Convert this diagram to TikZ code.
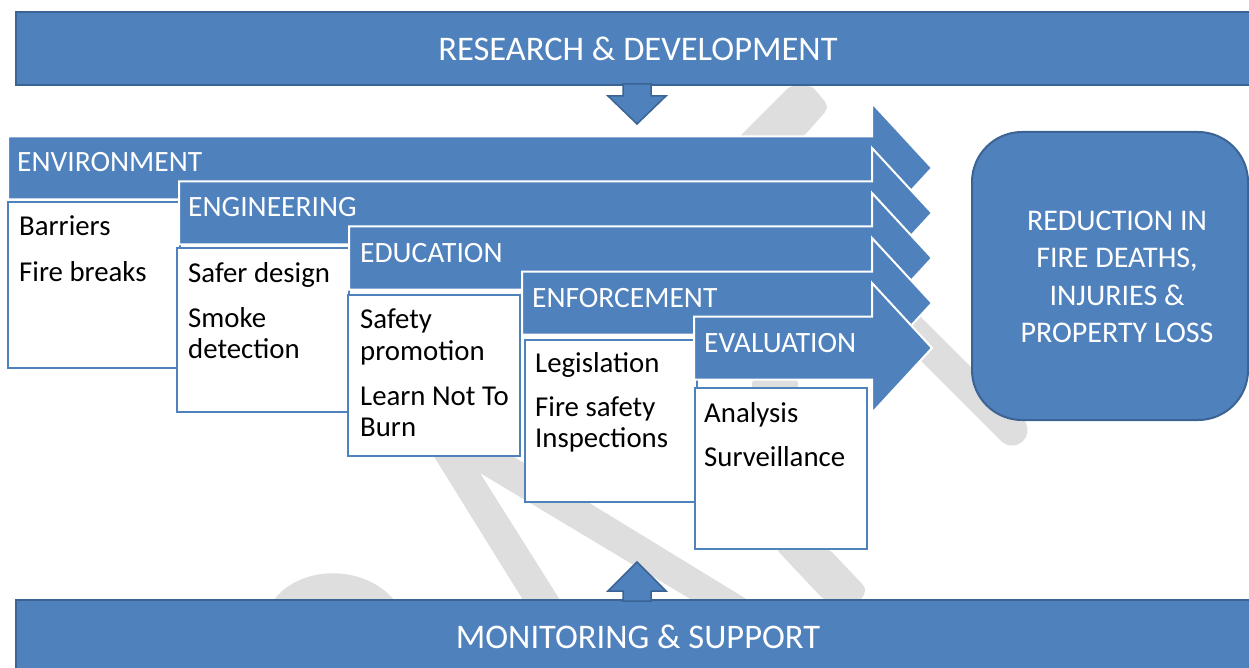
\documentclass[tikz,border=0pt]{standalone}
\usepackage{fontspec}
\setmainfont{Carlito}
\definecolor{blueF}{HTML}{4F81BD}
\definecolor{blueD}{HTML}{3B6494}
\definecolor{wm}{HTML}{DEDEDE}
\begin{document}
\begin{tikzpicture}[x=1pt,y=-1pt,
  banner/.style={fill=blueF, draw=blueD, line width=2},
  blockarrow/.style={fill=blueF, draw=blueD, line width=1.5, line join=miter},
  chevron/.style={fill=blueF, draw=white, line width=2},
  itembox/.style={fill=white, draw=blueF, line width=2.5},
  hdr/.style={anchor=base west, inner sep=0, text=white, font=\fontsize{29.5}{32}\selectfont},
  itm/.style={anchor=base west, inner sep=0, text=black, font=\fontsize{28.8}{32}\selectfont},
  bantext/.style={anchor=base, inner sep=0, text=white, font=\fontsize{34.5}{40}\selectfont},
]
\useasboundingbox (0,0) rectangle (1249,668);
% ---- watermark (background) ----
\fill[wm, rounded corners=4] (739,137) -- (790,86) -- (812,86) -- (827,104) -- (827,110) -- (803,137) -- cycle;
\draw[wm, line width=31, line cap=round] (860,278) -- (1012,430);
\fill[wm, rounded corners=6] (752,396) rectangle (798,378);
\fill[wm] (273,601) .. controls (300,564) and (365,564) .. (395,601) -- cycle;
\fill[wm] (433,455) -- (511,455) -- (748,600) -- (692,600) -- (480,473) -- (560,600) -- (523,600) -- cycle;
\fill[wm, rounded corners=4] (776,549) -- (829,549) -- (866,588) -- (862,600) -- (824,600) -- cycle;
% ---- banners ----
\draw[banner] (16,12) rectangle (1262,85);
\node[bantext] (rdtext) at (638,61) {RESEARCH \& DEVELOPMENT};
\draw[banner] (16,600) rectangle (1262,690);
\node[bantext] (mstext) at (638,648) {MONITORING \& SUPPORT};
% block arrows from the banners
\coordinate (downtip) at (637,124);
\coordinate (uptip) at (637,562);
\draw[blockarrow] (623,84) -- (651,84) -- (651,96) -- (666,96) -- (downtip) -- (608,96) -- (623,96) -- cycle;
\draw[blockarrow] (623,601) -- (651,601) -- (651,591) -- (666,591) -- (uptip) -- (608,591) -- (623,591) -- cycle;
% ---- chevrons and boxes ----
\foreach \x/\c/\bt/\bb/\bl in {8/168/202/368/8, 179/213/248/412/177, 349/258/295/456/348, 522/303/340/502/525, 694/348/388/549/695}{
  \draw[chevron] (\x,\c-31.5) -- (872,\c-31.5) -- (872,\c-65) -- (932,\c) -- (872,\c+65) -- (872,\c+31.5) -- (\x,\c+31.5) -- cycle;
  \draw[itembox] (\bl,\bt) rectangle (\bl+172,\bb);
}
% ---- header texts ----
\node[hdr] (henv) at (17,172) {ENVIRONMENT};
\node[hdr] (heng) at (188,217) {ENGINEERING};
\node[hdr] (hedu) at (360,262) {EDUCATION};
\node[hdr] (henf) at (532,307) {ENFORCEMENT};
\node[hdr] (heva) at (704,352) {EVALUATION};
% ---- item texts ----
\node[itm] (i1a) at (19,236) {Barriers};
\node[itm] (i1b) at (19,281) {Fire breaks};
\node[itm] (i2a) at (188,282) {Safer design};
\node[itm] (i2b) at (188,327) {Smoke};
\node[itm] (i2c) at (188,358) {detection};
\node[itm] (i3a) at (360,328) {Safety};
\node[itm] (i3b) at (360,360) {promotion};
\node[itm] (i3c) at (360,405) {Learn Not To};
\node[itm] (i3d) at (360,436) {Burn};
\node[itm] (i4a) at (535,372) {Legislation};
\node[itm] (i4b) at (535,416) {Fire safety};
\node[itm] (i4c) at (535,447) {Inspections};
\node[itm] (i5a) at (704,422) {Analysis};
\node[itm] (i5b) at (704,466) {Surveillance};
% ---- result ----
\node[draw=blueD, fill=blueF, line width=2, rounded corners=50, minimum width=276, minimum height=288, inner sep=0] (res) at (1110,276) {};
\node[text=white, align=center, inner sep=0, font=\fontsize{30}{37.5}\selectfont] (restext) at (1117,277) {REDUCTION IN\\FIRE DEATHS,\\INJURIES \&\\PROPERTY LOSS};
\end{tikzpicture}
\end{document}
